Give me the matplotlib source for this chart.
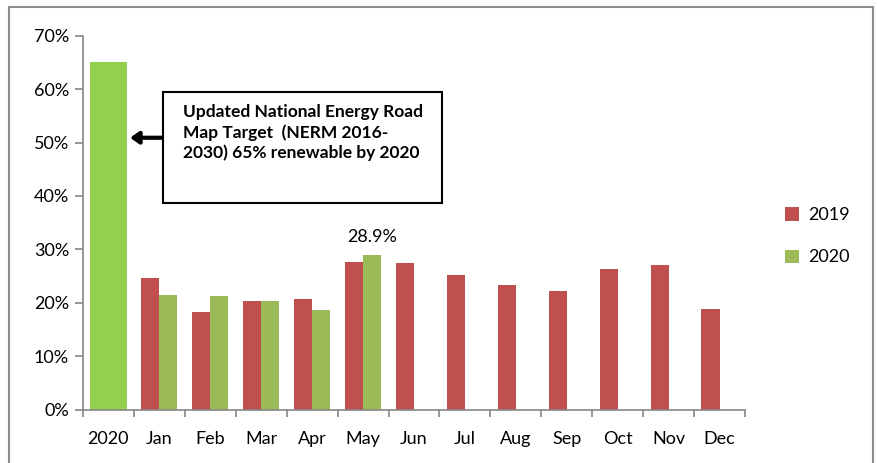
import matplotlib
matplotlib.use("Agg")
import matplotlib.pyplot as plt
import numpy as np
from matplotlib.patches import Rectangle
from matplotlib.ticker import FuncFormatter, FixedLocator

categories = ["2020", "Jan", "Feb", "Mar", "Apr", "May", "Jun", "Jul", "Aug",
              "Sep", "Oct", "Nov", "Dec"]
target_values = [65.0] + [np.nan] * 12
values_2019 = [np.nan, 24.7, 18.3, 20.3, 20.8, 27.7, 27.4, 25.3, 23.3, 22.2, 26.3, 27.0, 18.8]
values_2020 = [np.nan, 21.4, 21.2, 20.4, 18.7, 28.9, np.nan, np.nan, np.nan, np.nan, np.nan, np.nan, np.nan]
yticks = [0, 10, 20, 30, 40, 50, 60, 70]
annotation_text = "Updated National Energy Road\nMap Target  (NERM 2016-\n2030) 65% renewable by 2020"
label_may = "28.9%"

RED = "#C0504D"
GREEN = "#9BBB59"
BRIGHT = "#92D050"
AXC = "#868686"

plt.rcParams['font.family'] = ['Lato', 'DejaVu Sans']

fig = plt.figure(figsize=(8.78, 4.63), dpi=100)
ax = fig.add_axes([0.0945, 0.1151, 0.8485 - 0.0945, 0.9229 - 0.1151])

x = np.arange(len(categories))
bw = 0.355
ax.bar(x, target_values, width=0.72, color=BRIGHT, zorder=2)
b19 = ax.bar(x - bw / 2, values_2019, width=bw, color=RED, zorder=2, label="2019")
b20 = ax.bar(x + bw / 2, values_2020, width=bw, color=GREEN, zorder=2, label="2020")

ax.set_xlim(-0.5, len(categories) - 0.5)
ax.set_ylim(0, 70)
ax.yaxis.set_major_locator(FixedLocator(yticks))
ax.yaxis.set_major_formatter(FuncFormatter(lambda v, p: f"{v:.0f}%"))
ax.set_xticks(x)
ax.set_xticklabels(categories)
ax.set_xticks(np.arange(-0.5, len(categories)), minor=True)
ax.tick_params(axis='x', which='major', length=0, pad=15, labelsize=13)
ax.tick_params(axis='x', which='minor', length=5, width=1.2, color=AXC, direction='out')
ax.tick_params(axis='y', which='major', length=6, width=1.2, color=AXC, labelsize=13, pad=4)
for s in ['top', 'right']:
    ax.spines[s].set_visible(False)
for s in ['left', 'bottom']:
    ax.spines[s].set_color(AXC)
    ax.spines[s].set_linewidth(1.2)

# label on May 2020
may_i = categories.index("May")
ax.text(may_i + bw / 2, values_2020[may_i] + 3.4, label_may, ha='center', va='center', fontsize=13)

# annotation box
ax.annotate("", xy=(0.37, 50.9), xytext=(1.1, 50.9),
            arrowprops=dict(arrowstyle="-|>,head_length=0.5,head_width=0.35", color="black", lw=3),
            zorder=5)
fig.patches.append(Rectangle((163 / 878, 1 - 203 / 463), (441.7 - 163) / 878, (203 - 92.3) / 463,
                             transform=fig.transFigure, fill=True, facecolor='white',
                             edgecolor='black', lw=1.5, zorder=4))
fig.text(183 / 878, 1 - 104 / 463, annotation_text, ha='left', va='top', fontsize=12.5,
         fontweight='bold', linespacing=1.3, zorder=6)

# legend
ax.legend(handles=[b19, b20], loc='upper left', bbox_to_anchor=(769 / 878, 1 - 191 / 463),
          bbox_transform=fig.transFigure, frameon=False, fontsize=13,
          handlelength=0.75, handleheight=0.75, handletextpad=0.5, labelspacing=1.45)

# outer frame
fig.patches.append(Rectangle((9 / 878, -0.05), (873 - 9) / 878, 1.05 - 7 / 463,
                             transform=fig.transFigure, fill=False, edgecolor='#8c8c8c', lw=1.5))

fig.savefig("out.png", dpi=100)
